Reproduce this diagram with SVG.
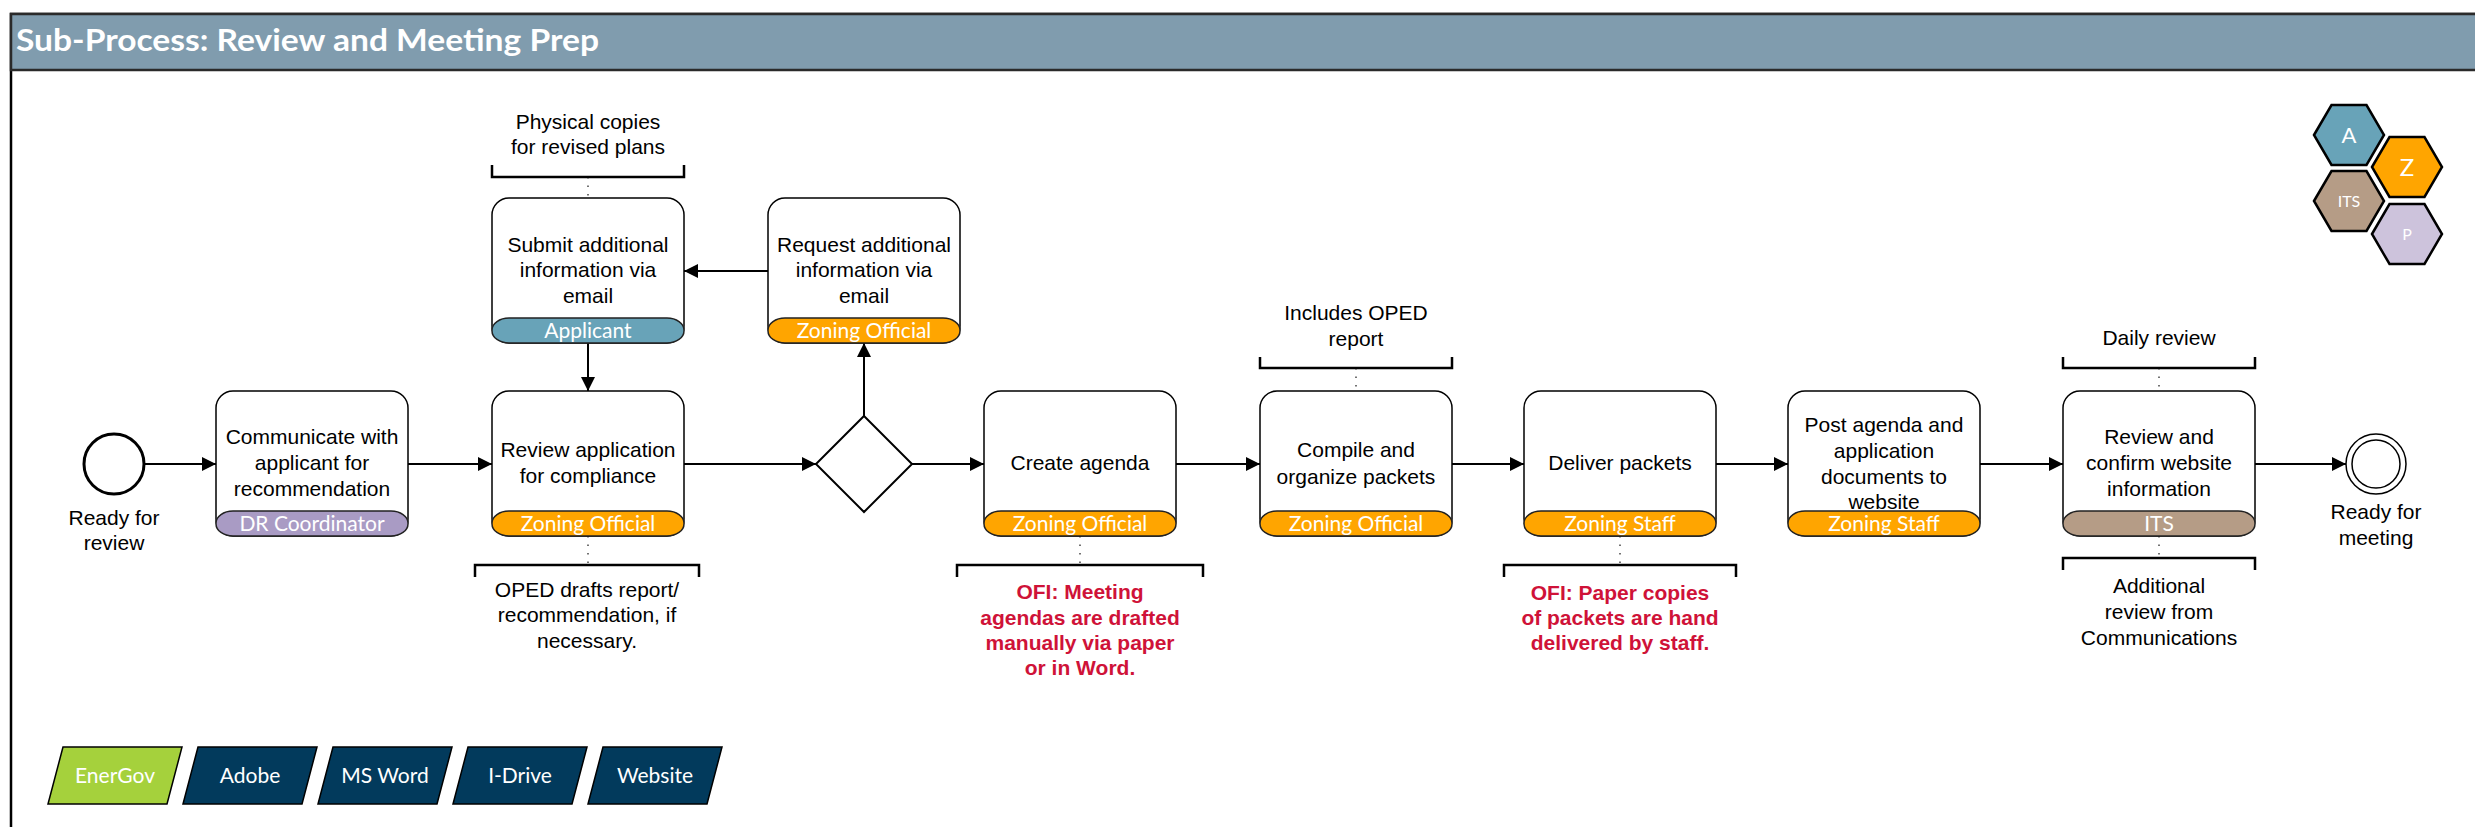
<svg xmlns="http://www.w3.org/2000/svg" width="2475" height="827" viewBox="0 0 2475 827">
  <defs>
    <marker id="arrow" viewBox="0 0 10 10" refX="10" refY="5" markerWidth="14" markerHeight="14" markerUnits="userSpaceOnUse" orient="auto">
      <path d="M0,0 L10,5 L0,10 z" fill="#000"/>
    </marker>
    <style>
      .box { fill: #fff; stroke: #000; stroke-width: 1.5; }
      .band { stroke: #222; stroke-width: 1.5; }
      .zo { fill: #ffa500; }
      .dr { fill: #a99bc4; }
      .ap { fill: #68a3b8; }
      .its { fill: #b59c86; }
      .pl { fill: #cdc3dc; }
      .t { font-family: "Liberation Sans", Arial, sans-serif; font-size: 21px; fill: #000; text-anchor: middle; }
      .ofi { font-weight: bold; fill: #cf1238; }
      .role { font-family: Lato, "Open Sans", sans-serif; font-size: 21px; fill: #fff; text-anchor: middle; }
      .flow { stroke: #000; stroke-width: 2; fill: none; marker-end: url(#arrow); }
      .assoc { stroke: #444; stroke-width: 1.5; stroke-dasharray: 1.5 7; fill: none; }
      .bracket { stroke: #000; stroke-width: 2.5; fill: none; }
      .hex { stroke: #000; stroke-width: 2.5; }
      .tag { stroke: #000; stroke-width: 1.5; }
      .navy { fill: #023a5c; }
      .lime { fill: #a5d13c; }
    </style>
  </defs>

  <!-- frame and header -->
  <rect x="11" y="14" width="2500" height="860" fill="#fff" stroke="#000" stroke-width="2.5"/>
  <rect x="11" y="14" width="2500" height="56" fill="#809cae" stroke="#2a2a2a" stroke-width="2.5"/>
  <text x="16" y="51" font-family="Lato, 'Open Sans', sans-serif" font-weight="bold" font-size="31" fill="#fff" textLength="583" lengthAdjust="spacingAndGlyphs">Sub-Process: Review and Meeting Prep</text>

  <!-- sequence flows -->
  <g id="connectors">
    <path class="flow" d="M144,464 H216"/>
    <path class="flow" d="M408,464 H492"/>
    <path class="flow" d="M684,464 H816"/>
    <path class="flow" d="M912,464 H984"/>
    <path class="flow" d="M864,416 V343"/>
    <path class="flow" d="M768,271 H684"/>
    <path class="flow" d="M588,343 V391"/>
    <path class="flow" d="M1176,464 H1260"/>
    <path class="flow" d="M1452,464 H1524"/>
    <path class="flow" d="M1716,464 H1788"/>
    <path class="flow" d="M1980,464 H2063"/>
    <path class="flow" d="M2255,464 H2346"/>
    <!-- annotation links -->
    <path class="assoc" d="M588,177 V198"/>
    <path class="assoc" d="M1356,368 V391"/>
    <path class="assoc" d="M2159,368 V391"/>
    <path class="assoc" d="M588,536 V565"/>
    <path class="assoc" d="M1080,536 V565"/>
    <path class="assoc" d="M1620,536 V565"/>
    <path class="assoc" d="M2159,536 V558"/>
  </g>

  <!-- start event -->
  <g id="start">
    <circle cx="114" cy="464" r="30" fill="#fff" stroke="#000" stroke-width="3"/>
    <text class="t"><tspan x="114" y="525">Ready for</tspan><tspan x="114" y="550">review</tspan></text>
  </g>

  <g id="task-communicate">
    <rect class="box" x="216" y="391" width="192" height="145" rx="17"/>
    <rect class="band dr" x="216" y="511" width="192" height="25" rx="17" ry="12"/>
    <text class="t"><tspan x="312" y="444">Communicate with</tspan><tspan x="312" y="470">applicant for</tspan><tspan x="312" y="496">recommendation</tspan></text>
    <text class="role" x="312" y="531">DR Coordinator</text>
  </g>

  <g id="task-review">
    <rect class="box" x="492" y="391" width="192" height="145" rx="17"/>
    <rect class="band zo" x="492" y="511" width="192" height="25" rx="17" ry="12"/>
    <text class="t"><tspan x="588" y="457">Review application</tspan><tspan x="588" y="483">for compliance</tspan></text>
    <text class="role" x="588" y="531">Zoning Official</text>
  </g>

  <g id="task-submit">
    <rect class="box" x="492" y="198" width="192" height="145" rx="17"/>
    <rect class="band ap" x="492" y="318" width="192" height="25" rx="17" ry="12"/>
    <text class="t"><tspan x="588" y="252">Submit additional</tspan><tspan x="588" y="277">information via</tspan><tspan x="588" y="303">email</tspan></text>
    <text class="role" x="588" y="338">Applicant</text>
  </g>

  <g id="task-request">
    <rect class="box" x="768" y="198" width="192" height="145" rx="17"/>
    <rect class="band zo" x="768" y="318" width="192" height="25" rx="17" ry="12"/>
    <text class="t"><tspan x="864" y="252">Request additional</tspan><tspan x="864" y="277">information via</tspan><tspan x="864" y="303">email</tspan></text>
    <text class="role" x="864" y="338">Zoning Official</text>
  </g>

  <g id="gateway">
    <polygon points="864,416 912,464 864,512 816,464" fill="#fff" stroke="#000" stroke-width="2"/>
  </g>

  <g id="task-create-agenda">
    <rect class="box" x="984" y="391" width="192" height="145" rx="17"/>
    <rect class="band zo" x="984" y="511" width="192" height="25" rx="17" ry="12"/>
    <text class="t" x="1080" y="470">Create agenda</text>
    <text class="role" x="1080" y="531">Zoning Official</text>
  </g>

  <g id="task-compile">
    <rect class="box" x="1260" y="391" width="192" height="145" rx="17"/>
    <rect class="band zo" x="1260" y="511" width="192" height="25" rx="17" ry="12"/>
    <text class="t"><tspan x="1356" y="457">Compile and</tspan><tspan x="1356" y="484">organize packets</tspan></text>
    <text class="role" x="1356" y="531">Zoning Official</text>
  </g>

  <g id="task-deliver">
    <rect class="box" x="1524" y="391" width="192" height="145" rx="17"/>
    <rect class="band zo" x="1524" y="511" width="192" height="25" rx="17" ry="12"/>
    <text class="t" x="1620" y="470">Deliver packets</text>
    <text class="role" x="1620" y="531">Zoning Staff</text>
  </g>

  <g id="task-post">
    <rect class="box" x="1788" y="391" width="192" height="145" rx="17"/>
    <rect class="band zo" x="1788" y="511" width="192" height="25" rx="17" ry="12"/>
    <text class="t"><tspan x="1884" y="432">Post agenda and</tspan><tspan x="1884" y="458">application</tspan><tspan x="1884" y="484">documents to</tspan><tspan x="1884" y="509">website</tspan></text>
    <text class="role" x="1884" y="531">Zoning Staff</text>
  </g>

  <g id="task-confirm">
    <rect class="box" x="2063" y="391" width="192" height="145" rx="17"/>
    <rect class="band its" x="2063" y="511" width="192" height="25" rx="17" ry="12"/>
    <text class="t"><tspan x="2159" y="444">Review and</tspan><tspan x="2159" y="470">confirm website</tspan><tspan x="2159" y="496">information</tspan></text>
    <text class="role" x="2159" y="531">ITS</text>
  </g>

  <g id="end">
    <circle cx="2376" cy="464" r="30" fill="#fff" stroke="#000" stroke-width="1.5"/>
    <circle cx="2376" cy="464" r="24" fill="none" stroke="#000" stroke-width="1.5"/>
    <text class="t"><tspan x="2376" y="519">Ready for</tspan><tspan x="2376" y="545">meeting</tspan></text>
  </g>

  <!-- text annotations -->
  <g id="note-physical">
    <path class="bracket" d="M492,165 V177 H684 V165"/>
    <text class="t"><tspan x="588" y="129">Physical copies</tspan><tspan x="588" y="154">for revised plans</tspan></text>
  </g>
  <g id="note-oped-report">
    <path class="bracket" d="M1260,357 V368 H1452 V357"/>
    <text class="t"><tspan x="1356" y="320">Includes OPED</tspan><tspan x="1356" y="346">report</tspan></text>
  </g>
  <g id="note-daily">
    <path class="bracket" d="M2063,357 V368 H2255 V357"/>
    <text class="t" x="2159" y="345">Daily review</text>
  </g>
  <g id="note-oped-drafts">
    <path class="bracket" d="M475,577 V565 H699 V577"/>
    <text class="t"><tspan x="587" y="597">OPED drafts report/</tspan><tspan x="587" y="622">recommendation, if</tspan><tspan x="587" y="648">necessary.</tspan></text>
  </g>
  <g id="note-ofi-agenda">
    <path class="bracket" d="M957,577 V565 H1203 V577"/>
    <text class="t ofi"><tspan x="1080" y="599">OFI: Meeting</tspan><tspan x="1080" y="625">agendas are drafted</tspan><tspan x="1080" y="650">manually via paper</tspan><tspan x="1080" y="675">or in Word.</tspan></text>
  </g>
  <g id="note-ofi-packets">
    <path class="bracket" d="M1504,577 V565 H1736 V577"/>
    <text class="t ofi"><tspan x="1620" y="600">OFI: Paper copies</tspan><tspan x="1620" y="625">of packets are hand</tspan><tspan x="1620" y="650">delivered by staff.</tspan></text>
  </g>
  <g id="note-communications">
    <path class="bracket" d="M2063,570 V558 H2255 V570"/>
    <text class="t"><tspan x="2159" y="593">Additional</tspan><tspan x="2159" y="619">review from</tspan><tspan x="2159" y="645">Communications</tspan></text>
  </g>

  <!-- role legend -->
  <g id="legend-roles" font-family="Lato, 'Open Sans', sans-serif" fill="#fff" text-anchor="middle">
    <polygon class="hex ap" points="2314,135 2331.5,105 2366.5,105 2384,135 2366.5,165 2331.5,165"/>
    <text x="2349" y="143" font-size="22">A</text>
    <polygon class="hex zo" points="2372,167 2389.5,137 2424.5,137 2442,167 2424.5,197 2389.5,197"/>
    <text x="2407" y="176" font-size="24">Z</text>
    <polygon class="hex its" points="2314,201 2331.5,171 2366.5,171 2384,201 2366.5,231 2331.5,231"/>
    <text x="2349" y="207" font-size="16">ITS</text>
    <polygon class="hex pl" points="2372,234 2389.5,204 2424.5,204 2442,234 2424.5,264 2389.5,264"/>
    <text x="2407" y="240" font-size="16">P</text>
  </g>

  <!-- systems -->
  <g id="systems" font-family="Lato, 'Open Sans', sans-serif" font-size="21" fill="#fff" text-anchor="middle">
    <polygon class="tag lime" points="48,804 63,747 182,747 167,804"/>
    <text x="115" y="783">EnerGov</text>
    <polygon class="tag navy" points="183,804 198,747 317,747 302,804"/>
    <text x="250" y="783">Adobe</text>
    <polygon class="tag navy" points="318,804 333,747 452,747 437,804"/>
    <text x="385" y="783">MS Word</text>
    <polygon class="tag navy" points="453,804 468,747 587,747 572,804"/>
    <text x="520" y="783">I-Drive</text>
    <polygon class="tag navy" points="588,804 603,747 722,747 707,804"/>
    <text x="655" y="783">Website</text>
  </g>
</svg>
